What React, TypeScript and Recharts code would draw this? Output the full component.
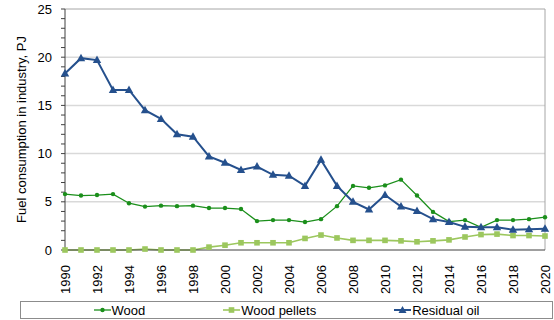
import React from "react";
import {
  LineChart,
  Line,
  XAxis,
  YAxis,
  ReferenceLine,
  Legend,
} from "recharts";

const years = [
  1990, 1991, 1992, 1993, 1994, 1995, 1996, 1997, 1998, 1999, 2000, 2001,
  2002, 2003, 2004, 2005, 2006, 2007, 2008, 2009, 2010, 2011, 2012, 2013,
  2014, 2015, 2016, 2017, 2018, 2019, 2020,
];
const wood = [
  5.8, 5.65, 5.7, 5.8, 4.85, 4.5, 4.6, 4.55, 4.6, 4.35, 4.35, 4.25, 3.0, 3.1,
  3.1, 2.9, 3.2, 4.55, 6.65, 6.45, 6.7, 7.3, 5.65, 3.95, 2.95, 3.1, 2.35, 3.1,
  3.1, 3.2, 3.4,
];
const woodPellets = [
  0, 0, 0, 0, 0, 0.1, 0, 0, 0, 0.3, 0.5, 0.75, 0.75, 0.75, 0.75, 1.2, 1.55,
  1.25, 1.0, 1.0, 1.0, 0.95, 0.85, 0.95, 1.05, 1.35, 1.6, 1.65, 1.5, 1.5, 1.45,
];
const residualOil = [
  18.3, 19.9, 19.7, 16.6, 16.6, 14.5, 13.6, 12.0, 11.75, 9.7, 9.05, 8.3, 8.65,
  7.8, 7.7, 6.65, 9.35, 6.65, 5.0, 4.2, 5.7, 4.5, 4.05, 3.2, 2.9, 2.4, 2.35,
  2.35, 2.1, 2.15, 2.2,
];
const xTicks = [
  1990, 1992, 1994, 1996, 1998, 2000, 2002, 2004, 2006, 2008, 2010, 2012, 2014,
  2016, 2018, 2020,
];
const yTicks = [
  0, 1, 2, 3, 4, 5, 6, 7, 8, 9, 10, 11, 12, 13, 14, 15, 16, 17, 18, 19, 20,
  21, 22, 23, 24, 25,
];
const gridValues = [5, 10, 15, 20];

const data = years.map((year, i) => ({
  year,
  wood: wood[i],
  pellets: woodPellets[i],
  oil: residualOil[i],
}));

const FONT = "Liberation Sans, Arial, sans-serif";
const WOOD = "#1b8f1b";
const PELLETS = "#9cc75e";
const OIL = "#25508d";

const XTick = ({ x, y, payload }: any) => (
  <text
    transform={`translate(${x + 4.5},${y + 7}) rotate(-90)`}
    textAnchor="end"
    fontSize={13}
    fontFamily={FONT}
    fill="#000"
  >
    {payload.value}
  </text>
);

// only every 5th tick gets a number, the rest are minor ticks
const YTick = ({ x, y, payload }: any) =>
  payload.value % 5 === 0 ? (
    <text
      x={x - 7}
      y={y + 4.5}
      textAnchor="end"
      fontSize={13}
      fontFamily={FONT}
      fill="#000"
    >
      {payload.value}
    </text>
  ) : (
    <g />
  );

const WoodDot = ({ cx, cy, index }: any) => (
  <circle key={`w${index}`} cx={cx} cy={cy} r={2.2} fill={WOOD} />
);

const PelletDot = ({ cx, cy, index }: any) => (
  <rect
    key={`p${index}`}
    x={cx - 2.8}
    y={cy - 2.8}
    width={5.6}
    height={5.6}
    fill={PELLETS}
  />
);

const OilDot = ({ cx, cy, index }: any) => (
  <path
    key={`o${index}`}
    d={`M${cx},${cy - 4.5}L${cx + 4.2},${cy + 3}L${cx - 4.2},${cy + 3}Z`}
    fill={OIL}
  />
);

const legendItems = [
  { name: "Wood", color: WOOD, width: 1.3, marker: "dot" },
  { name: "Wood pellets", color: PELLETS, width: 1.6, marker: "square" },
  { name: "Residual oil", color: OIL, width: 2, marker: "tri" },
];

const LegendBox = () => (
  <div
    style={{
      border: "1px solid #8c8c8c",
      height: 18,
      display: "flex",
      justifyContent: "center",
      alignItems: "center",
      gap: 78,
      fontFamily: FONT,
      fontSize: 13,
      color: "#000",
      boxSizing: "border-box",
    }}
  >
    {legendItems.map((it) => (
      <div key={it.name} style={{ display: "flex", alignItems: "center" }}>
        <svg width={17} height={10}>
          <line
            x1={0}
            y1={5}
            x2={17}
            y2={5}
            stroke={it.color}
            strokeWidth={it.width}
          />
          {it.marker === "dot" && <circle cx={8.5} cy={5} r={2.2} fill={it.color} />}
          {it.marker === "square" && (
            <rect x={5.7} y={2.2} width={5.6} height={5.6} fill={it.color} />
          )}
          {it.marker === "tri" && (
            <path d="M8.5,1L12.5,8L4.5,8Z" fill={it.color} />
          )}
        </svg>
        <span style={{ marginLeft: 1 }}>{it.name}</span>
      </div>
    ))}
  </div>
);

export default function App() {
  return (
    <div style={{ position: "absolute", left: 0, top: 0, background: "#fff" }}>
      <LineChart
        width={554}
        height={320}
        data={data}
        margin={{ top: 9, right: 9, bottom: 2, left: 0 }}
      >
        {gridValues.map((v) => (
          <ReferenceLine key={v} y={v} stroke="#d9d9d9" strokeWidth={1.5} />
        ))}
        <ReferenceLine y={25} stroke="#a6a6a6" strokeWidth={1} />
        <ReferenceLine x={2020} stroke="#a6a6a6" strokeWidth={1} />
        <XAxis
          dataKey="year"
          type="number"
          domain={[1990, 2020]}
          ticks={xTicks}
          interval={0}
          tick={<XTick />}
          tickLine={false}
          axisLine={{ stroke: "#404040", strokeWidth: 1 }}
          height={50}
        />
        <YAxis
          type="number"
          domain={[0, 25]}
          ticks={yTicks}
          interval={0}
          tick={<YTick />}
          tickSize={4}
          tickLine={{ stroke: "#404040" }}
          axisLine={{ stroke: "#404040", strokeWidth: 1 }}
          width={65}
          label={{
            value: "Fuel consumption in industry, PJ",
            angle: -90,
            position: "insideLeft",
            dx: 16,
            style: { fontFamily: FONT, fontSize: 13, fill: "#000", textAnchor: "middle" },
          }}
        />
        <Line
          dataKey="wood"
          stroke={WOOD}
          strokeWidth={1.3}
          dot={<WoodDot />}
          activeDot={false}
          isAnimationActive={false}
        />
        <Line
          dataKey="pellets"
          stroke={PELLETS}
          strokeWidth={1.6}
          dot={<PelletDot />}
          activeDot={false}
          isAnimationActive={false}
        />
        <Line
          dataKey="oil"
          stroke={OIL}
          strokeWidth={2}
          dot={<OilDot />}
          activeDot={false}
          isAnimationActive={false}
        />
        <Legend
          content={<LegendBox />}
          wrapperStyle={{ left: 20, width: 533, bottom: 1, height: 18 }}
        />
      </LineChart>
    </div>
  );
}
